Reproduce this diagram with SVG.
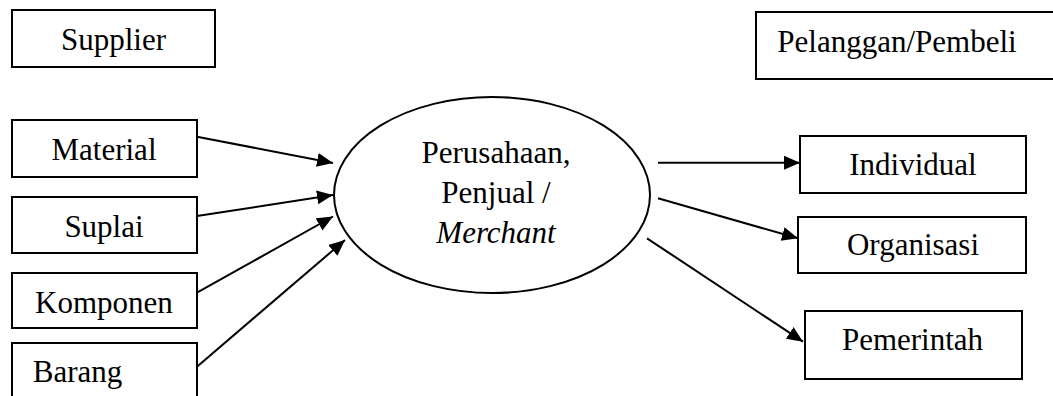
<svg xmlns="http://www.w3.org/2000/svg" width="1053" height="396" viewBox="0 0 1053 396">
<style>
.box{fill:#fff;stroke:#000;stroke-width:2}
.t{font-size:31px;fill:#000;text-anchor:middle}
.i{font-style:italic}
.c{stroke:#000;stroke-width:2;fill:none;marker-end:url(#ah)}
</style>
<defs>
<marker id="ah" markerUnits="userSpaceOnUse" markerWidth="17" markerHeight="15" refX="16" refY="7" orient="auto">
<path d="M0,0 L16,7 L0,14 z" fill="#000"/>
</marker>
</defs>
<rect width="1053" height="396" fill="#fff"/>
<g font-family="Liberation Serif, Times New Roman, DejaVu Serif, serif">
<g id="supplier"><rect class="box" x="12" y="10" width="203" height="57"/><text class="t" x="113.5" y="50">Supplier</text></g>
<g id="pelanggan"><rect class="box" x="756" y="12" width="310" height="67"/><text class="t" x="897" y="52">Pelanggan/Pembeli</text></g>
<g id="material"><rect class="box" x="12" y="120" width="185" height="57"/><text class="t" x="104" y="160">Material</text></g>
<g id="suplai"><rect class="box" x="12" y="197" width="185" height="56"/><text class="t" x="104" y="237">Suplai</text></g>
<g id="komponen"><rect class="box" x="12" y="273" width="185" height="55"/><text class="t" x="104" y="313">Komponen</text></g>
<g id="barang"><rect class="box" x="12" y="343" width="185" height="70"/><text class="t" x="77.5" y="382">Barang</text></g>
<g id="perusahaan"><ellipse class="box" cx="492" cy="195" rx="158" ry="98"/>
<text class="t" x="496" y="163">Perusahaan,</text>
<text class="t" x="496" y="203">Penjual /</text>
<text class="t i" x="496" y="243">Merchant</text></g>
<g id="individual"><rect class="box" x="800" y="136" width="226" height="57"/><text class="t" x="913" y="175">Individual</text></g>
<g id="organisasi"><rect class="box" x="798" y="217" width="228" height="56"/><text class="t" x="913" y="255">Organisasi</text></g>
<g id="pemerintah"><rect class="box" x="805" y="311" width="217" height="68"/><text class="t" x="912.5" y="350">Pemerintah</text></g>
</g>
<g id="connectors">
<line class="c" x1="197" y1="136.7" x2="333" y2="163"/>
<line class="c" x1="197" y1="216" x2="333" y2="195"/>
<line class="c" x1="197" y1="292.7" x2="333" y2="216.5"/>
<line class="c" x1="197" y1="366.7" x2="345" y2="240"/>
<line class="c" x1="658" y1="162.7" x2="800" y2="162.7"/>
<line class="c" x1="658" y1="198.3" x2="798" y2="238.3"/>
<line class="c" x1="647" y1="238.3" x2="803" y2="341.7"/>
</g>
</svg>
